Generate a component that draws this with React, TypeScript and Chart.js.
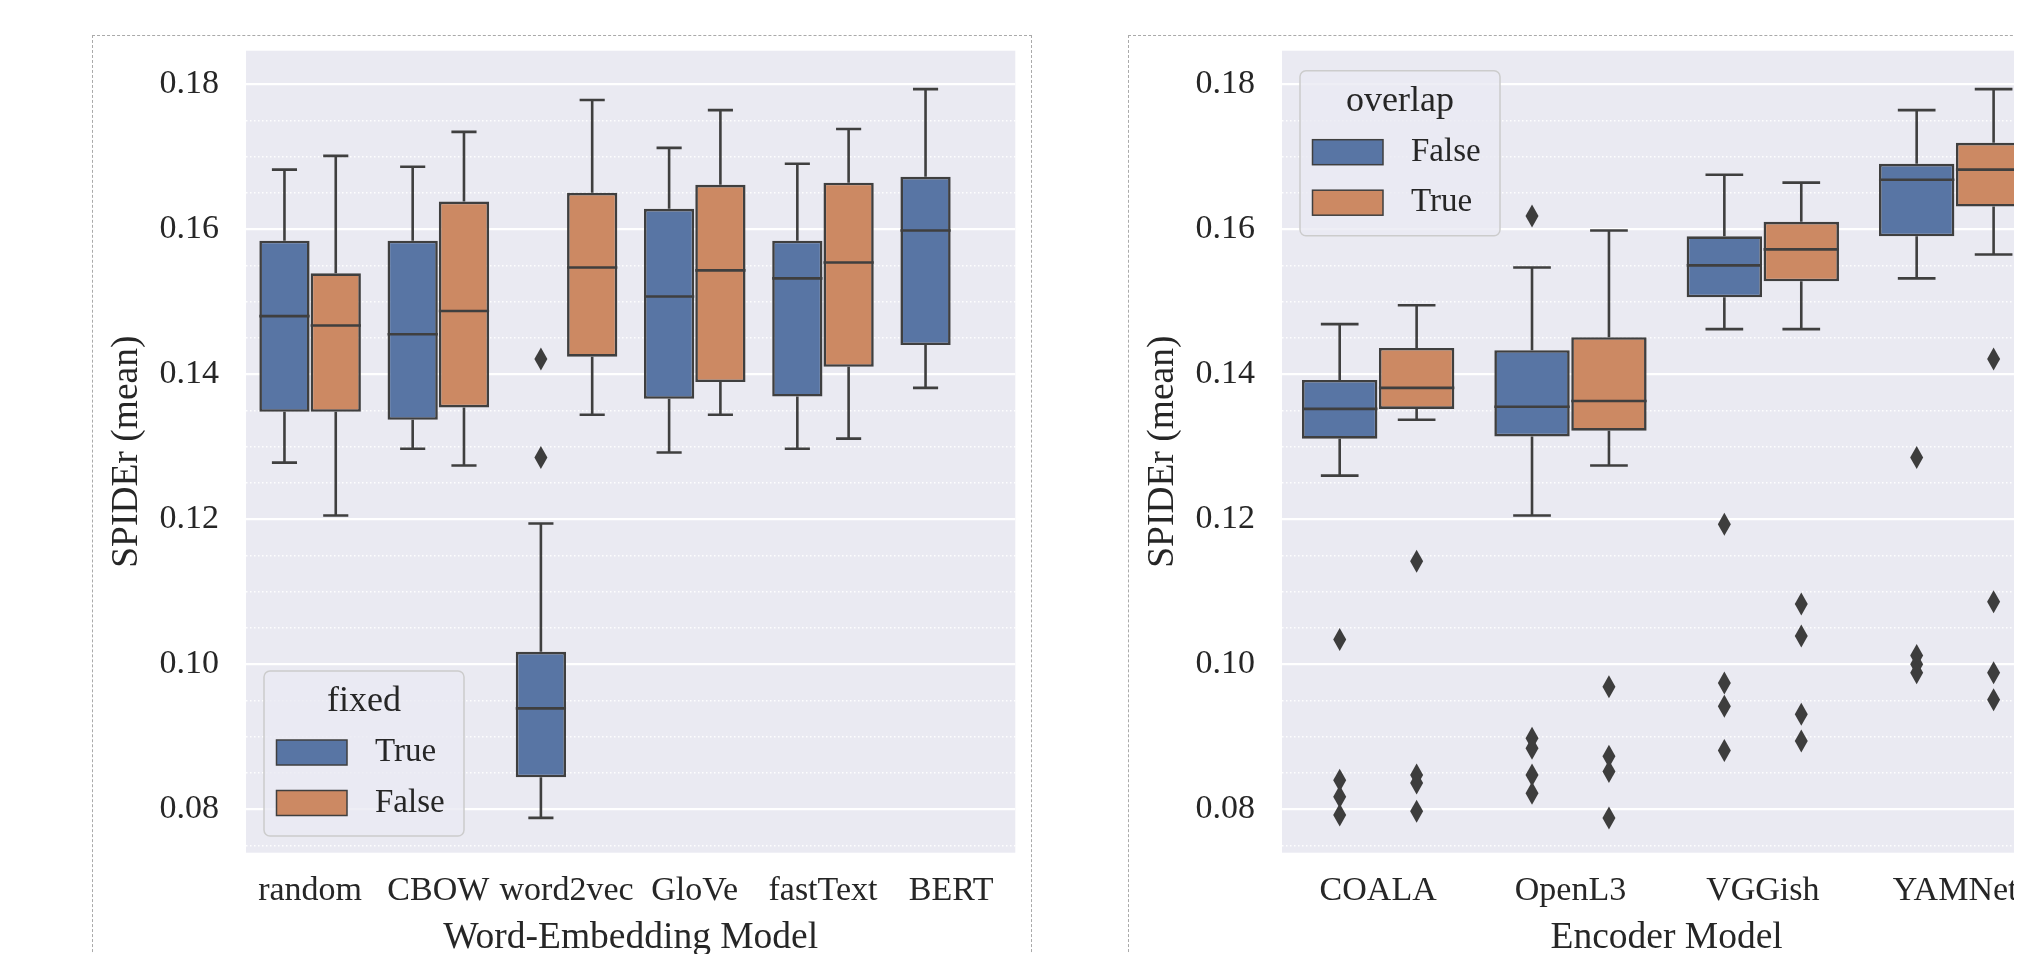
import React, { useEffect, useRef } from 'react';
import { Chart, registerables } from 'chart.js';

Chart.register(...registerables);

// ---------------- Left panel: Word-Embedding Model (hue: fixed) ----------------
const WE_CATEGORIES = ['random', 'CBOW', 'word2vec', 'GloVe', 'fastText', 'BERT'];
const WE_HUES = ['True', 'False'];
// each box: [lower whisker, Q1, median, Q3, upper whisker]
const WE_TRUE_BOXES = [
  [0.1278, 0.1348, 0.148, 0.1584, 0.1682],
  [0.1297, 0.1337, 0.1455, 0.1584, 0.1686],
  [0.0788, 0.0844, 0.0939, 0.1017, 0.1194],
  [0.1292, 0.1366, 0.1507, 0.1628, 0.1712],
  [0.1297, 0.1369, 0.1532, 0.1584, 0.169],
  [0.1381, 0.144, 0.1598, 0.1672, 0.1793],
];
const WE_FALSE_BOXES = [
  [0.1205, 0.1348, 0.1467, 0.1539, 0.1701],
  [0.1274, 0.1354, 0.1487, 0.1638, 0.1734],
  [0.1344, 0.1424, 0.1547, 0.165, 0.1778],
  [0.1344, 0.1389, 0.1543, 0.1661, 0.1764],
  [0.1311, 0.141, 0.1554, 0.1664, 0.1738],
  null,
];
const WE_TRUE_FLIERS = [[], [], [0.1421, 0.1285], [], [], []];
const WE_FALSE_FLIERS = [[], [], [], [], [], []];

// ---------------- Right panel: Encoder Model (hue: overlap) ----------------
const ENC_CATEGORIES = ['COALA', 'OpenL3', 'VGGish', 'YAMNet'];
const ENC_HUES = ['False', 'True'];
const ENC_FALSE_BOXES = [
  [0.126, 0.1311, 0.1352, 0.1392, 0.1469],
  [0.1205, 0.1314, 0.1355, 0.1433, 0.1547],
  [0.1462, 0.1506, 0.155, 0.159, 0.1675],
  [0.1532, 0.159, 0.1668, 0.169, 0.1764],
];
const ENC_TRUE_BOXES = [
  [0.1337, 0.1352, 0.1381, 0.1436, 0.1495],
  [0.1274, 0.1322, 0.1363, 0.1451, 0.1598],
  [0.1462, 0.1528, 0.1572, 0.161, 0.1664],
  [0.1565, 0.1631, 0.1682, 0.1719, 0.1793],
];
const ENC_FALSE_FLIERS = [
  [0.1034, 0.084, 0.0817, 0.0792],
  [0.1618, 0.0898, 0.0884, 0.0847, 0.0822],
  [0.1193, 0.0974, 0.0942, 0.0881],
  [0.1285, 0.1012, 0.1, 0.0988],
];
const ENC_TRUE_FLIERS = [
  [0.1142, 0.0847, 0.0836, 0.0797],
  [0.0969, 0.0873, 0.0852, 0.0788],
  [0.1083, 0.1039, 0.0931, 0.0894],
  [0.1421, 0.1086, 0.0988, 0.0951],
];

// ---------------- shared axis ----------------
const Y_MIN = 0.074;
const Y_MAX = 0.1846;
const Y_GRID_TICKS = [
  0.075, 0.08, 0.085, 0.09, 0.095, 0.1, 0.105, 0.11, 0.115, 0.12, 0.125,
  0.13, 0.135, 0.14, 0.145, 0.15, 0.155, 0.16, 0.165, 0.17, 0.175, 0.18,
];
const Y_TITLE = 'SPIDEr (mean)';

const HUE_COLORS = ['#5875a4', '#cc8963'];
const LINE_COLOR = '#3f3f3f';
const FLIER_COLOR = '#3d3d3d';
const TEXT_COLOR = '#262626';
const FONT_FAMILY = "'Liberation Serif', 'Times New Roman', serif";

const isMajor = (v: number) => Math.abs(v * 50 - Math.round(v * 50)) < 1e-6;

const plotBackground = {
  id: 'plotBackground',
  beforeDraw(chart: any) {
    const { ctx, chartArea: a } = chart;
    ctx.save();
    ctx.fillStyle = '#eaeaf2';
    ctx.fillRect(a.left, a.top, a.right - a.left, a.bottom - a.top);
    ctx.restore();
  },
};

// whiskers, caps, medians and outlier diamonds, positioned from the bar elements and the y scale
const boxWhiskers = {
  id: 'boxWhiskers',
  afterDatasetsDraw(chart: any) {
    const { ctx } = chart;
    const y = chart.scales.y;
    ctx.save();
    ctx.strokeStyle = LINE_COLOR;
    ctx.lineWidth = 2.6;
    ctx.lineCap = 'butt';
    chart.data.datasets.forEach((ds: any, i: number) => {
      if (!ds.boxStats) return;
      const meta = chart.getDatasetMeta(i);
      meta.data.forEach((bar: any, j: number) => {
        const s = ds.boxStats[j];
        if (!s) return;
        const { x, width } = bar.getProps(['x', 'width'], true);
        const lo = y.getPixelForValue(s[0]);
        const q1 = y.getPixelForValue(s[1]);
        const med = y.getPixelForValue(s[2]);
        const q3 = y.getPixelForValue(s[3]);
        const hi = y.getPixelForValue(s[4]);
        ctx.beginPath();
        ctx.moveTo(x, q3);
        ctx.lineTo(x, hi);
        ctx.moveTo(x - width / 4, hi);
        ctx.lineTo(x + width / 4, hi);
        ctx.moveTo(x, q1);
        ctx.lineTo(x, lo);
        ctx.moveTo(x - width / 4, lo);
        ctx.lineTo(x + width / 4, lo);
        ctx.moveTo(x - width / 2, med);
        ctx.lineTo(x + width / 2, med);
        ctx.stroke();
        const fl = (ds.fliers && ds.fliers[j]) || [];
        ctx.fillStyle = FLIER_COLOR;
        fl.forEach((v: number) => {
          const py = y.getPixelForValue(v);
          ctx.beginPath();
          ctx.moveTo(x, py - 11.5);
          ctx.lineTo(x + 6.5, py);
          ctx.lineTo(x, py + 11.5);
          ctx.lineTo(x - 6.5, py);
          ctx.closePath();
          ctx.fill();
        });
      });
    });
    ctx.restore();
  },
};

const boxLegend = {
  id: 'boxLegend',
  afterDraw(chart: any, _args: any, opts: any) {
    if (!opts || !opts.title) return;
    const { ctx, chartArea: a } = chart;
    const W = 200;
    const H = 165;
    const x0 = a.left + 18;
    const y0 = opts.corner === 'top' ? a.top + 20 : a.bottom - 16.7 - H;
    ctx.save();
    ctx.beginPath();
    ctx.roundRect(x0, y0, W, H, 6);
    ctx.fillStyle = 'rgba(234,234,242,0.8)';
    ctx.fill();
    ctx.strokeStyle = '#cccccc';
    ctx.lineWidth = 1.5;
    ctx.stroke();
    ctx.fillStyle = TEXT_COLOR;
    ctx.textAlign = 'center';
    ctx.textBaseline = 'middle';
    ctx.font = `36px ${FONT_FAMILY}`;
    ctx.fillText(opts.title, x0 + W / 2, y0 + 31);
    const entries = chart.data.datasets.filter((d: any) => d.boxStats);
    entries.forEach((d: any, k: number) => {
      const cy = y0 + 81.5 + k * 50.5;
      ctx.fillStyle = d.backgroundColor;
      ctx.fillRect(x0 + 12.5, cy - 12.5, 70.5, 25);
      ctx.strokeStyle = LINE_COLOR;
      ctx.lineWidth = 1.5;
      ctx.strokeRect(x0 + 12.5, cy - 12.5, 70.5, 25);
      ctx.fillStyle = TEXT_COLOR;
      ctx.textAlign = 'left';
      ctx.font = `33px ${FONT_FAMILY}`;
      ctx.fillText(d.label, x0 + 111, cy);
    });
    ctx.restore();
  },
};

type PanelProps = {
  categories: string[];
  hues: string[];
  boxes: (number[] | null)[][];
  fliers: number[][][];
  xTitle: string;
  legendTitle: string;
  legendCorner: 'top' | 'bottom';
};

function BoxPanel(props: PanelProps) {
  const ref = useRef<HTMLCanvasElement>(null);
  useEffect(() => {
    const { categories, hues, boxes, fliers, xTitle, legendTitle, legendCorner } = props;
    const barSets = hues.map((h, k) => ({
      type: 'bar',
      label: h,
      data: boxes[k].map((b) => (b ? [b[1], b[3]] : null)),
      boxStats: boxes[k],
      fliers: fliers[k],
      backgroundColor: HUE_COLORS[k],
      borderColor: LINE_COLOR,
      borderWidth: 2.6,
      borderSkipped: false,
      categoryPercentage: 0.8,
      barPercentage: 0.98,
    }));
    const tickFont = { family: FONT_FAMILY, size: 34 };
    const titleFont = { family: FONT_FAMILY, size: 37.5 };
    const chart = new Chart(ref.current!, {
      type: 'bar',
      data: { labels: categories, datasets: barSets as any },
      plugins: [plotBackground, boxWhiskers, boxLegend],
      options: {
        responsive: false,
        animation: false,
        events: [],
        layout: { padding: { top: 14.7, right: 15.7, left: 0, bottom: 0 } },
        plugins: {
          legend: { display: false },
          tooltip: { enabled: false },
          boxLegend: { title: legendTitle, corner: legendCorner },
        } as any,
        scales: {
          x: {
            type: 'category',
            grid: { display: false, drawTicks: false },
            border: { display: false },
            ticks: { font: tickFont, color: TEXT_COLOR, padding: 18, maxRotation: 0, autoSkip: false },
            title: { display: true, text: xTitle, font: titleFont, color: TEXT_COLOR, padding: { top: 0, bottom: 15 } },
            afterFit: (s: any) => {
              s.height = 123.3;
              s.paddingLeft = 0;
              s.paddingRight = 0;
            },
          },
          y: {
            type: 'linear',
            min: Y_MIN,
            max: Y_MAX,
            afterBuildTicks: (axis: any) => {
              axis.ticks = Y_GRID_TICKS.map((v) => ({ value: v }));
            },
            ticks: {
              font: tickFont,
              color: TEXT_COLOR,
              padding: 27,
              autoSkip: false,
              callback: (v: any) => (isMajor(Number(v)) ? Number(v).toFixed(2) : ''),
            },
            grid: {
              drawTicks: false,
              color: (c: any) => (c.tick && isMajor(c.tick.value) ? '#ffffff' : 'rgba(255,255,255,0.95)'),
              lineWidth: (c: any) => (c.tick && isMajor(c.tick.value) ? 2.2 : 1.4),
            },
            border: {
              display: false,
              dash: (c: any) => (c.tick && isMajor(c.tick.value) ? [] : [1.5, 2.5]),
            },
            title: { display: true, text: Y_TITLE, font: titleFont, color: TEXT_COLOR, padding: { top: 11.5, bottom: 0 } },
            afterFit: (s: any) => {
              s.width = 153;
              s.paddingTop = 0;
              s.paddingBottom = 0;
            },
          },
        } as any,
      },
    } as any);
    return () => chart.destroy();
  }, []);
  return <canvas ref={ref} width={938} height={940} style={{ display: 'block' }} />;
}

const figureStyle = (left: number): React.CSSProperties => ({
  position: 'absolute',
  left,
  top: 27,
  width: 938,
  height: 960,
  border: '1px dashed #aaaaaa',
  background: '#ffffff',
});

export default function App() {
  return (
    <div style={{ position: 'relative', width: 2014, height: 946, overflow: 'hidden' }}>
      <div style={figureStyle(83.7)}>
        <BoxPanel
          categories={WE_CATEGORIES}
          hues={WE_HUES}
          boxes={[WE_TRUE_BOXES, WE_FALSE_BOXES]}
          fliers={[WE_TRUE_FLIERS, WE_FALSE_FLIERS]}
          xTitle="Word-Embedding Model"
          legendTitle="fixed"
          legendCorner="bottom"
        />
      </div>
      <div style={figureStyle(1119.7)}>
        <BoxPanel
          categories={ENC_CATEGORIES}
          hues={ENC_HUES}
          boxes={[ENC_FALSE_BOXES, ENC_TRUE_BOXES]}
          fliers={[ENC_FALSE_FLIERS, ENC_TRUE_FLIERS]}
          xTitle="Encoder Model"
          legendTitle="overlap"
          legendCorner="top"
        />
      </div>
    </div>
  );
}
